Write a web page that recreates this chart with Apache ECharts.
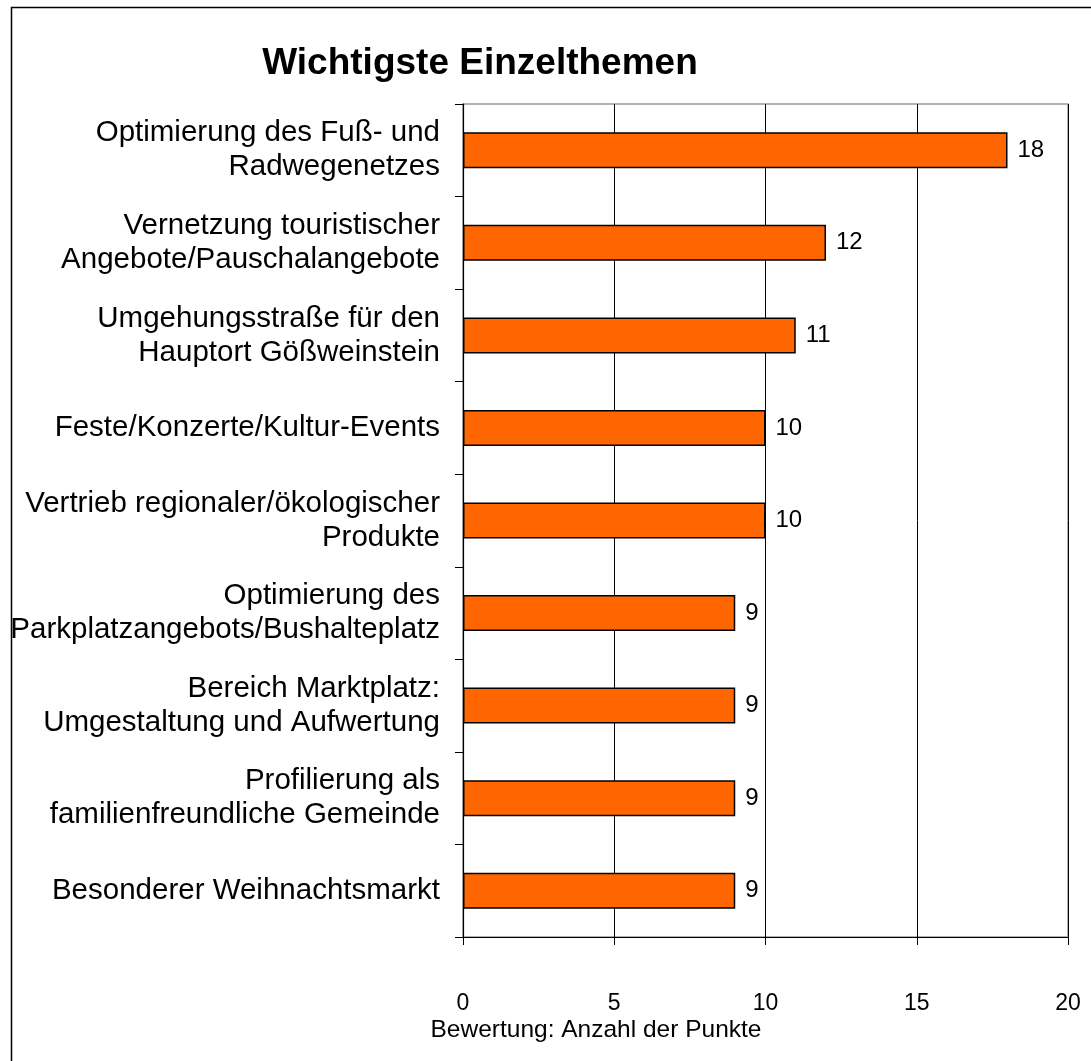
<!DOCTYPE html>
<html><head><meta charset="utf-8">
<script src="https://cdn.jsdelivr.net/npm/echarts@6/dist/echarts.min.js"></script>
<style>html,body{margin:0;padding:0;background:#fff}#c{width:1091px;height:1061px}</style>
</head><body><div id="c"></div>
<script>
const categories = [
  "Optimierung des Fuß- und\nRadwegenetzes",
  "Vernetzung touristischer\nAngebote/Pauschalangebote",
  "Umgehungsstraße für den\nHauptort Gößweinstein",
  "Feste/Konzerte/Kultur-Events",
  "Vertrieb regionaler/ökologischer\nProdukte",
  "Optimierung des\nParkplatzangebots/Bushalteplatz",
  "Bereich Marktplatz:\nUmgestaltung und Aufwertung",
  "Profilierung als\nfamilienfreundliche Gemeinde",
  "Besonderer Weihnachtsmarkt"
];
const values = [18, 12, 11, 10, 10, 9, 9, 9, 9];
const title = "Wichtigste Einzelthemen";
const xAxisName = "Bewertung: Anzahl der Punkte";

const chart = echarts.init(document.getElementById('c'));
const font = "'Liberation Sans', Arial, sans-serif";
chart.setOption({
  animation: false,
  backgroundColor: '#fff',
  title: {
    text: title, left: 475, top: 40, textAlign: 'center',
    textStyle: {fontFamily: font, fontSize: 37, fontWeight: 'bold', color: '#000'}
  },
  graphic: [{
    type: 'rect', left: 9, top: 5, z: -10,
    shape: {width: 1200, height: 1200},
    style: {fill: 'none', stroke: '#000', lineWidth: 1.5}
  }, {
    type: 'text', x: 596, y: 1030, z: 10,
    style: {text: xAxisName, fontFamily: font, fontSize: 24.5, fill: '#000', textAlign: 'center', textVerticalAlign: 'middle'}
  }],
  grid: {left: 463, right: 23, top: 104, bottom: 124, show: true, borderColor: '#999', borderWidth: 1.5},
  xAxis: {
    type: 'value', min: 0, max: 20, interval: 5,
    axisLine: {show: true, lineStyle: {color: '#000', width: 1.2}},
    axisTick: {show: true, length: 8, inside: false, lineStyle: {color: '#000'}},
    axisLabel: {fontFamily: font, fontSize: 23, color: '#000', margin: 55, showMaxLabel: true},
    splitLine: {show: true, lineStyle: {color: '#000', width: 1}}
  },
  yAxis: {
    type: 'category', data: categories, inverse: true,
    axisLine: {show: true, lineStyle: {color: '#000', width: 1.2}},
    axisTick: {show: true, length: 8, lineStyle: {color: '#000'}},
    axisLabel: {fontFamily: font, fontSize: 29.5, color: '#000', margin: 23, lineHeight: 34, align: 'right'}
  },
  series: [{
    type: 'bar', data: values, barWidth: 36,
    itemStyle: {color: '#FF6600', borderColor: '#000', borderWidth: 1.5},
    label: {show: true, position: 'right', distance: 10, fontFamily: font, fontSize: 24, color: '#000'}
  }]
});
</script></body></html>
